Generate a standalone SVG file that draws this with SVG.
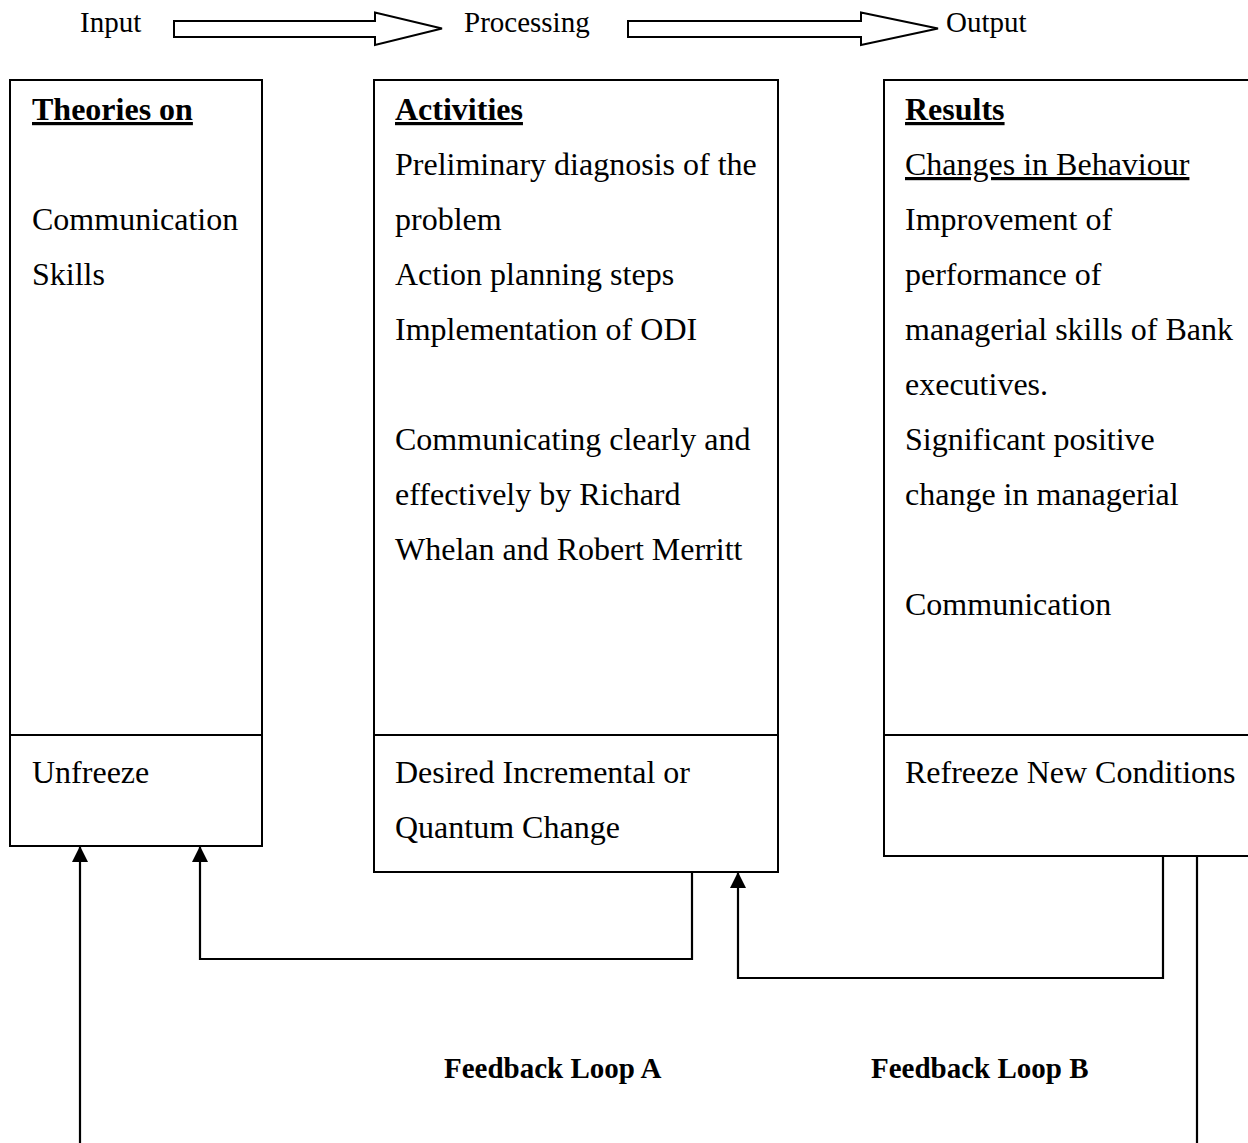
<svg xmlns="http://www.w3.org/2000/svg" width="1248" height="1143" viewBox="0 0 1248 1143">
<style>
.box{fill:#fff;stroke:#000;stroke-width:2}
.div{stroke:#000;stroke-width:2}
.t{font-family:"Liberation Serif","Times New Roman",serif;font-size:32px;fill:#000}
.h{font-weight:bold;text-decoration:underline}
.u{text-decoration:underline}
.top{font-family:"Liberation Serif","Times New Roman",serif;font-size:29px;fill:#000}
.fb{font-family:"Liberation Serif","Times New Roman",serif;font-size:29px;font-weight:bold;fill:#000}
.bigarrow{fill:#fff;stroke:#000;stroke-width:2}
.conn{fill:none;stroke:#000;stroke-width:2.2}
</style>
<defs>
<marker id="ah" markerUnits="userSpaceOnUse" markerWidth="16" markerHeight="16" refX="16" refY="8" orient="auto">
<path d="M0,0 L16,8 L0,16 z" fill="#000"/>
</marker>
</defs>
<rect width="1248" height="1143" fill="#fff"/>

<g id="flow-header">
<text class="top" x="80" y="32">Input</text>
<path class="bigarrow" d="M174,21 H375 V12.5 L442,28.5 L375,45 V37 H174 Z"/>
<text class="top" x="464" y="32">Processing</text>
<path class="bigarrow" d="M628,21 H861 V12.5 L938,28.5 L861,45 V37 H628 Z"/>
<text class="top" x="946" y="32">Output</text>
</g>

<g id="input-box">
<rect class="box" x="10" y="80" width="252" height="766"/>
<line class="div" x1="10" y1="735" x2="262" y2="735"/>
<text class="t h" x="32" y="120">Theories on</text>
<text class="t" x="32" y="230">Communication</text>
<text class="t" x="32" y="285">Skills</text>
<text class="t" x="32" y="783">Unfreeze</text>
</g>

<g id="processing-box">
<rect class="box" x="374" y="80" width="404" height="792"/>
<line class="div" x1="374" y1="735" x2="778" y2="735"/>
<text class="t h" x="395" y="120">Activities</text>
<text class="t" x="395" y="175">Preliminary diagnosis of the</text>
<text class="t" x="395" y="230">problem</text>
<text class="t" x="395" y="285">Action planning steps</text>
<text class="t" x="395" y="340">Implementation of ODI</text>
<text class="t" x="395" y="450">Communicating clearly and</text>
<text class="t" x="395" y="505">effectively by Richard</text>
<text class="t" x="395" y="560">Whelan and Robert Merritt</text>
<text class="t" x="395" y="783">Desired Incremental or</text>
<text class="t" x="395" y="838">Quantum Change</text>
</g>

<g id="output-box">
<rect class="box" x="884" y="80" width="400" height="776"/>
<line class="div" x1="884" y1="735" x2="1250" y2="735"/>
<text class="t h" x="905" y="120">Results</text>
<text class="t u" x="905" y="175">Changes in Behaviour</text>
<text class="t" x="905" y="230">Improvement of</text>
<text class="t" x="905" y="285">performance of</text>
<text class="t" x="905" y="340">managerial skills of Bank</text>
<text class="t" x="905" y="395">executives.</text>
<text class="t" x="905" y="450">Significant positive</text>
<text class="t" x="905" y="505">change in managerial</text>
<text class="t" x="905" y="615">Communication</text>
<text class="t" x="905" y="783">Refreeze New Conditions</text>
</g>

<g id="connectors">
<path class="conn" d="M80,1143 V846" marker-end="url(#ah)"/>
<path class="conn" d="M692,872 V959 H200 V846" marker-end="url(#ah)"/>
<path class="conn" d="M1163,856 V978 H738 V872" marker-end="url(#ah)"/>
<path class="conn" d="M1197,856 V1143"/>
</g>

<g id="labels">
<text class="fb" x="444" y="1078">Feedback Loop A</text>
<text class="fb" x="871" y="1078">Feedback Loop B</text>
</g>
</svg>
